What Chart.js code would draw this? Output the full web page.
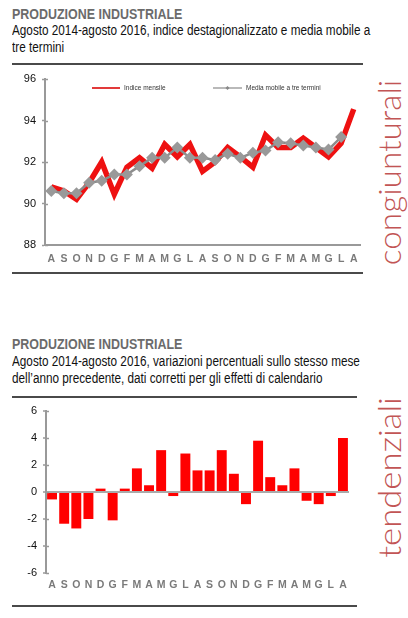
<!DOCTYPE html>
<html>
<head>
<meta charset="utf-8">
<script src="https://cdn.jsdelivr.net/npm/chart.js@4.4.1/dist/chart.umd.min.js"></script>
<style>
  html, body { margin: 0; padding: 0; background: #fff; }
  body { width: 408px; height: 618px; position: relative; overflow: hidden; font-family: "Liberation Sans", Arial, sans-serif; }
  .line { position: absolute; left: 12px; white-space: nowrap; line-height: 1; transform-origin: 0 0; }
  .title { font-weight: bold; font-size: 14px; color: #6b6b6b; }
  .sub { font-size: 14px; color: #111; }
  .rule { position: absolute; left: 12px; height: 2px; background: #4a4a4a; }
  .side { position: absolute; font-family: "Lato", "Open Sans", sans-serif; font-weight: 300; font-size: 31px; color: #c25555; white-space: nowrap; line-height: 1; transform-origin: center center; }
  canvas { position: absolute; }
</style>
</head>
<body>
<div class="line title" style="top:7px;" data-w="170">PRODUZIONE INDUSTRIALE</div>
<div class="line sub" style="top:23px;" data-w="358" data-group="a">Agosto 2014-agosto 2016, indice destagionalizzato e media mobile a</div>
<div class="line sub" style="top:40px;" data-group="a">tre termini</div>
<div class="rule" style="top:63px; width:351px;"></div>
<div class="rule" style="top:272px; width:351px;"></div>

<div class="line title" style="top:337px;" data-w="170">PRODUZIONE INDUSTRIALE</div>
<div class="line sub" style="top:354px;" data-w="348" data-group="b">Agosto 2014-agosto 2016, variazioni percentuali sullo stesso mese</div>
<div class="line sub" style="top:371px;" data-group="b">dell’anno precedente, dati corretti per gli effetti di calendario</div>
<div class="rule" style="top:396px; width:345px;"></div>
<div class="rule" style="top:605px; width:345px;"></div>

<div class="side" data-len="185" data-cx="389" data-cy="172">congiunturali</div>
<div class="side" data-len="160" data-cx="389" data-cy="477">tendenziali</div>

<canvas id="c1" width="366" height="205" style="left:0; top:66px;"></canvas>
<canvas id="c2" width="356" height="200" style="left:0; top:398px;"></canvas>

<script>
// ---- data ----
const months = ['A','S','O','N','D','G','F','M','A','M','G','L','A','S','O','N','D','G','F','M','A','M','G','L','A'];
const indiceMensile = [90.8, 90.6, 90.2, 91.0, 92.0, 90.45, 91.75, 92.2, 91.7, 92.85, 92.25, 92.85, 91.55, 92.0, 92.7, 92.25, 91.75, 93.3, 92.7, 92.7, 93.15, 92.7, 92.25, 92.9, 94.55];
const mediaMobile = [90.6, 90.5, 90.5, 91.0, 91.1, 91.4, 91.4, 91.8, 92.2, 92.2, 92.7, 92.2, 92.2, 92.1, 92.4, 92.2, 92.45, 92.55, 92.95, 92.9, 92.8, 92.7, 92.6, 93.2, null];
const variazioni = [-0.55, -2.35, -2.7, -2.0, 0.25, -2.1, 0.25, 1.75, 0.5, 3.1, -0.3, 2.85, 1.6, 1.6, 3.1, 1.35, -0.9, 3.8, 1.1, 0.5, 1.75, -0.65, -0.9, -0.3, 4.0];
const yTicksTop = [88, 90, 92, 94, 96];
const yTicksBottom = [-6, -4, -2, 0, 2, 4, 6];
const legendLabels = ['Indice mensile', 'Media mobile a tre termini'];

// ---- condensed text lines (no narrow font installed: scale horizontally) ----
const groupScale = {};
document.querySelectorAll('.line[data-w]').forEach(el => {
  const k = parseFloat(el.dataset.w) / el.offsetWidth;
  el.style.transform = 'scaleX(' + k.toFixed(4) + ')';
  if (el.dataset.group) groupScale[el.dataset.group] = k;
});
document.querySelectorAll('.line:not([data-w])').forEach(el => {
  const k = groupScale[el.dataset.group] || 1;
  el.style.transform = 'scaleX(' + k.toFixed(4) + ')';
});

// ---- side labels ----
document.querySelectorAll('.side').forEach(el => {
  const w = el.offsetWidth;
  const k = parseFloat(el.dataset.len) / w;
  el.style.left = (parseFloat(el.dataset.cx) - w / 2) + 'px';
  el.style.top = (parseFloat(el.dataset.cy) - el.offsetHeight / 2) + 'px';
  el.style.transform = 'rotate(-90deg) scaleX(' + k.toFixed(3) + ')';
});

Chart.defaults.font.family = '"Liberation Sans", Arial, sans-serif';
Chart.defaults.animation = false;

const crossTicks = {
  id: 'crossTicks',
  afterDraw(chart) {
    const y = chart.scales.y, ctx = chart.ctx;
    ctx.save();
    ctx.strokeStyle = '#999';
    ctx.lineWidth = 1.5;
    y.ticks.forEach(t => {
      const py = Math.round(y.getPixelForValue(t.value)) + 0.5;
      ctx.beginPath();
      ctx.moveTo(y.right, py);
      ctx.lineTo(y.right + 3, py);
      ctx.stroke();
    });
    ctx.restore();
  }
};

const inLegend = {
  id: 'inLegend',
  afterDatasetsDraw(chart) {
    const ctx = chart.ctx;
    const y = 22;
    ctx.save();
    ctx.font = '6.5px "Liberation Sans", Arial, sans-serif';
    ctx.textBaseline = 'middle';
    ctx.strokeStyle = '#e23a3a'; ctx.lineWidth = 2;
    ctx.beginPath(); ctx.moveTo(92, y); ctx.lineTo(120, y); ctx.stroke();
    ctx.fillStyle = '#333';
    ctx.fillText(legendLabels[0], 124, y);
    ctx.strokeStyle = '#8a8a8a'; ctx.lineWidth = 1.2;
    ctx.beginPath(); ctx.moveTo(213, y); ctx.lineTo(242, y); ctx.stroke();
    ctx.fillStyle = '#888';
    ctx.beginPath(); ctx.moveTo(227.5, y - 2); ctx.lineTo(229.5, y); ctx.lineTo(227.5, y + 2); ctx.lineTo(225.5, y); ctx.closePath(); ctx.fill();
    ctx.fillStyle = '#333';
    ctx.fillText(legendLabels[1], 246, y);
    ctx.restore();
  }
};

new Chart(document.getElementById('c1'), {
  type: 'line',
  data: {
    labels: months,
    datasets: [
      { label: legendLabels[0], data: indiceMensile, borderColor: '#ee1111', borderWidth: 5.5, pointRadius: 0, tension: 0, order: 2 },
      { label: legendLabels[1], data: mediaMobile, borderColor: '#8c8c8c', borderWidth: 2.5, pointStyle: 'rectRot', pointRadius: 6, pointBackgroundColor: '#999999', pointBorderColor: '#999999', pointBorderWidth: 0, tension: 0, order: 1 }
    ]
  },
  options: {
    responsive: false,
    devicePixelRatio: 1,
    layout: { padding: { top: 13, right: 6, left: 0, bottom: 0 } },
    plugins: { legend: { display: false }, tooltip: { enabled: false } },
    scales: {
      x: {
        offset: true,
        grid: { display: false, drawTicks: false },
        border: { display: true, color: '#999', width: 2 },
        ticks: { color: '#7a7a7a', font: { size: 10.5, weight: 'bold' }, padding: 8, maxRotation: 0, autoSkip: false },
        afterFit(s) { s.height = 26; }
      },
      y: {
        min: yTicksTop[0], max: yTicksTop[yTicksTop.length - 1],
        afterBuildTicks(s) { s.ticks = yTicksTop.map(v => ({ value: v })); },
        grid: { drawOnChartArea: false, tickLength: 3, tickColor: '#999', tickWidth: 1.5 },
        border: { display: true, color: '#999', width: 2 },
        ticks: { color: '#111', font: { size: 11 }, padding: 6 },
        afterFit(s) { s.width = 45; }
      }
    }
  },
  plugins: [crossTicks, inLegend]
});

new Chart(document.getElementById('c2'), {
  type: 'bar',
  data: {
    labels: months,
    datasets: [
      { data: variazioni, backgroundColor: '#ff0000', borderWidth: 0, barPercentage: 0.82, categoryPercentage: 1 }
    ]
  },
  options: {
    responsive: false,
    devicePixelRatio: 1,
    layout: { padding: { top: 13, right: 7, left: 0, bottom: 0 } },
    plugins: { legend: { display: false }, tooltip: { enabled: false } },
    scales: {
      x: {
        grid: { display: false, drawTicks: false },
        border: { display: false },
        ticks: { color: '#7a7a7a', font: { size: 10.5, weight: 'bold' }, padding: 6, maxRotation: 0, autoSkip: false },
        afterFit(s) { s.height = 25; }
      },
      y: {
        min: yTicksBottom[0], max: yTicksBottom[yTicksBottom.length - 1],
        afterBuildTicks(s) { s.ticks = yTicksBottom.map(v => ({ value: v })); },
        grid: {
          drawOnChartArea: true,
          color: ctx => (ctx.tick && ctx.tick.value === 0) ? '#aaaaaa' : 'rgba(0,0,0,0)',
          lineWidth: 2,
          tickLength: 3, tickColor: '#999', tickWidth: 1.5
        },
        border: { display: true, color: '#999', width: 2 },
        ticks: { color: '#111', font: { size: 11 }, padding: 6 },
        afterFit(s) { s.width = 46; }
      }
    }
  },
  plugins: [crossTicks]
});
</script>
</body>
</html>
